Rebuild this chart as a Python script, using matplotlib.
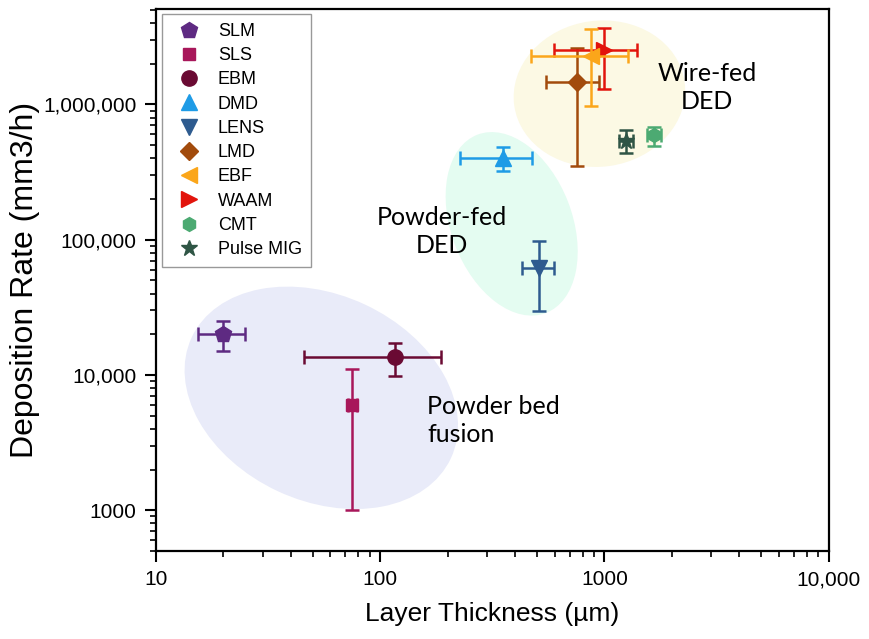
import numpy as np
import matplotlib
matplotlib.use("Agg")
import matplotlib.pyplot as plt
from matplotlib.patches import Ellipse
from matplotlib.ticker import FixedLocator, FixedFormatter, LogLocator, NullFormatter
from matplotlib.transforms import ScaledTranslation

# ----------------------------------- data ----------------------------------
methods = ['SLM', 'SLS', 'EBM', 'DMD', 'LENS', 'LMD', 'EBF', 'WAAM', 'CMT', 'Pulse MIG']
thickness = [20, 75, 116, 352, 509, 751, 875, 1000, 1668, 1253]          # um
thick_low = [15.4, 72, 46, 227, 428, 547, 469, 593, 1552, 1166]
thick_high = [25, 79, 187, 474, 593, 950, 1278, 1402, 1791, 1345]
rate = [20000, 6000, 13500, 401000, 62200, 1475000, 2290000, 2540000, 592000, 535000]  # mm3/h
rate_low = [15000, 1000, 9800, 321000, 29500, 350000, 970000, 1290000, 490000, 437000]
rate_high = [25000, 11000, 17200, 483000, 98000, 2630000, 3620000, 3680000, 676000, 644000]

x_ticks = [10, 100, 1000, 10000]
x_ticklabels = ['10', '100', '1000', '10,000']
y_ticks = [1000, 10000, 100000, 1000000]
y_ticklabels = ['1000', '10,000', '100,000', '1,000,000']

groups = ['Powder bed\nfusion', 'Powder-fed\nDED', 'Wire-fed\nDED']
group_center_x = [54.7, 386, 950]
group_center_y = [6780, 131000, 1200000]
group_label_x = [162, 189, 2870]
group_label_y = [4590, 115000, 1330000]

# ----------------------------------- style ----------------------------------
markers = ['p', 's', 'o', '^', 'v', 'D', '<', '>', 'h', '*']
colors = ['#5E2A82', '#A8175A', '#6A0A33', '#1E9BE6', '#2E5B8F',
          '#A24B0C', '#FBA61A', '#E2140C', '#4CAA72', '#2F5545']
msizes = [12, 8, 11, 11, 11, 9, 11, 11, 10, 12]
draw_order = [0, 1, 2, 3, 4, 5, 7, 6, 8, 9]

ell_w = [2.86, 1.91, 1.72]      # inches
ell_h = [2.06, 1.21, 1.46]
ell_ang = [-25, -69, 8]
ell_col = ['#E9EBF9', '#E4FCF1', '#FCF9E4']
text_ha = ['left', 'center', 'center']

plt.rcParams['font.family'] = ['Liberation Sans', 'DejaVu Sans']

fig = plt.figure(figsize=(8.7, 6.39), dpi=100)
ax = fig.add_axes([0.179, 0.1377, 0.7736, 0.848])
ax.set_xscale('log')
ax.set_yscale('log')
ax.set_xlim(10, 10000)
ax.set_ylim(500, 5.06e6)

# group ellipses (fixed size in inches, centred on data points)
for i in range(len(groups)):
    tr = fig.dpi_scale_trans + ScaledTranslation(group_center_x[i], group_center_y[i], ax.transData)
    e = Ellipse((0, 0), ell_w[i], ell_h[i], angle=ell_ang[i], transform=tr,
                facecolor=ell_col[i], edgecolor='none', zorder=0)
    ax.add_patch(e)
    ax.text(group_label_x[i], group_label_y[i], groups[i], ha=text_ha[i], va='center',
            fontsize=18, family=['Lato', 'DejaVu Sans'], linespacing=1.25, zorder=1)

handles = {}
for k, i in enumerate(draw_order):
    xe = [[thickness[i] - thick_low[i]], [thick_high[i] - thickness[i]]]
    ye = [[rate[i] - rate_low[i]], [rate_high[i] - rate[i]]]
    ax.errorbar(thickness[i], rate[i], xerr=xe, yerr=ye, fmt='none', ecolor=colors[i],
                elinewidth=1.8, capsize=5, capthick=1.8, zorder=2 + k)
    h, = ax.plot(thickness[i], rate[i], marker=markers[i], color=colors[i], markersize=msizes[i],
                 linestyle='none', label=methods[i], zorder=2 + k)
    handles[i] = h

leg = ax.legend([handles[i] for i in range(len(methods))], methods, loc='upper left',
                bbox_to_anchor=(0.009, 0.991), fontsize=13, frameon=True, fancybox=False,
                edgecolor='#808080', handletextpad=0.6, labelspacing=0.4, borderpad=0.5,
                handlelength=2.0, borderaxespad=0)
leg.get_frame().set_linewidth(1.0)

ax.xaxis.set_major_locator(FixedLocator(x_ticks))
ax.xaxis.set_major_formatter(FixedFormatter(x_ticklabels))
ax.yaxis.set_major_locator(FixedLocator(y_ticks))
ax.yaxis.set_major_formatter(FixedFormatter(y_ticklabels))
ax.xaxis.set_minor_locator(LogLocator(base=10, subs=np.arange(2, 10)))
ax.yaxis.set_minor_locator(LogLocator(base=10, subs=np.arange(2, 10)))
ax.xaxis.set_minor_formatter(NullFormatter())
ax.yaxis.set_minor_formatter(NullFormatter())
ax.tick_params(axis='both', which='major', direction='out', length=8, width=1.5, labelsize=15, pad=6)
ax.tick_params(axis='both', which='minor', direction='out', length=4.5, width=1.2)

for s in ax.spines.values():
    s.set_linewidth(1.6)

ax.set_xlabel('Layer Thickness (µm)', fontsize=19, labelpad=9)
ax.set_ylabel('Deposition Rate (mm3/h)', fontsize=23, labelpad=2)

fig.savefig('out.png', dpi=100)
